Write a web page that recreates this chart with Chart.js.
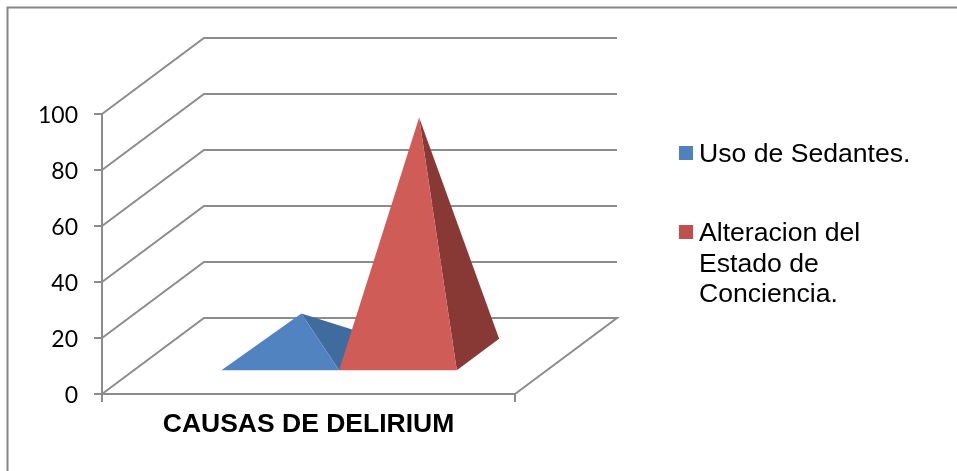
<!DOCTYPE html>
<html>
<head>
<meta charset="utf-8">
<script src="https://cdn.jsdelivr.net/npm/chart.js@4"></script>
<style>
  html, body { margin: 0; background: #fff; }
  #wrap { position: relative; width: 957px; height: 471px; }
</style>
</head>
<body>
<div id="wrap"><canvas id="delirium" width="957" height="471"></canvas></div>
<script>
const categories = ['CAUSAS DE DELIRIUM'];
const sedantes = [15];
const alteracion = [85];
const seriesNames = ['Uso de Sedantes.', 'Alteracion del Estado de Conciencia.'];
const legendLines = [['Uso de Sedantes.'], ['Alteracion del', 'Estado de', 'Conciencia.']];
const yTicks = [0, 20, 40, 60, 80, 100];

const gridColor = '#8c8c8c';
// how far the 3D box goes back, in pixels
const depthX = 102;
const depthY = 76;
// where the pyramid base sits inside that depth
const baseFront = 0.30;
const baseBack = 0.715;

const faces = [
    { front: '#5083c0', side: '#3f6b9e' },
    { front: '#d05c58', side: '#893935' }
];

// back walls and floor of the 3D box
const wallsPlugin = {
    id: 'walls',
    beforeDatasetsDraw(chart) {
        const ctx = chart.ctx;
        const area = chart.chartArea;
        const y = chart.scales.y;
        ctx.save();
        ctx.strokeStyle = gridColor;
        ctx.lineWidth = 2;
        y.ticks.forEach(t => {
            const py = y.getPixelForValue(t.value);
            ctx.beginPath();
            ctx.moveTo(area.left, py);
            ctx.lineTo(area.left + depthX, py - depthY);
            ctx.lineTo(area.right + depthX, py - depthY);
            if (t.value === 0) ctx.lineTo(area.right, py);
            ctx.stroke();
        });
        ctx.restore();
    }
};

function drawPyramid(ctx, bar, face) {
    const half = bar.width / 2;
    const mid = (baseFront + baseBack) / 2;

    const fl = [bar.x - half + baseFront * depthX, bar.base - baseFront * depthY];
    const fr = [bar.x + half + baseFront * depthX, bar.base - baseFront * depthY];
    const br = [bar.x + half + baseBack * depthX, bar.base - baseBack * depthY];
    const apex = [bar.x + mid * depthX, bar.y - mid * depthY];

    ctx.fillStyle = face.side;
    ctx.beginPath();
    ctx.moveTo(fr[0], fr[1]);
    ctx.lineTo(br[0], br[1]);
    ctx.lineTo(apex[0], apex[1]);
    ctx.closePath();
    ctx.fill();

    ctx.fillStyle = face.front;
    ctx.beginPath();
    ctx.moveTo(fl[0], fl[1]);
    ctx.lineTo(fr[0], fr[1]);
    ctx.lineTo(apex[0], apex[1]);
    ctx.closePath();
    ctx.fill();
}

// bars are drawn as pyramids, from the bar element geometry.
// first series first, chart.js would go the other way round
const pyramidPlugin = {
    id: 'pyramids',
    beforeDatasetDraw() {
        return false;
    },
    afterDatasetsDraw(chart) {
        const ctx = chart.ctx;
        ctx.save();
        chart.data.datasets.forEach((ds, i) => {
            drawPyramid(ctx, chart.getDatasetMeta(i).data[0], faces[i]);
        });
        ctx.restore();
    }
};

// legend by hand, the built in one can't do the tight box to text gap
const legendPlugin = {
    id: 'sideLegend',
    afterDraw(chart) {
        const ctx = chart.ctx;
        const tops = [146, 225];
        ctx.save();
        ctx.font = '26.6px "Liberation Sans"';
        ctx.textBaseline = 'middle';
        chart.data.datasets.forEach((ds, i) => {
            ctx.fillStyle = ds.backgroundColor;
            ctx.fillRect(679, tops[i], 14, 14);
            ctx.fillStyle = '#000';
            legendLines[i].forEach((line, n) => {
                ctx.fillText(line, 699, tops[i] + 9 + n * 30.5);
            });
        });
        ctx.restore();
    }
};

// outer frame of the chart
const framePlugin = {
    id: 'frame',
    beforeDraw(chart) {
        const ctx = chart.ctx;
        ctx.save();
        ctx.strokeStyle = '#868686';
        ctx.lineWidth = 2;
        ctx.beginPath();
        ctx.moveTo(7.5, 471);
        ctx.lineTo(7.5, 7.5);
        ctx.lineTo(957, 7.5);
        ctx.stroke();
        ctx.restore();
    }
};

new Chart(document.getElementById('delirium'), {
    type: 'bar',
    data: {
        labels: categories,
        datasets: [
            { label: seriesNames[0], data: sedantes, backgroundColor: '#4f81bd' },
            { label: seriesNames[1], data: alteracion, backgroundColor: '#c0504d' }
        ]
    },
    plugins: [framePlugin, wallsPlugin, pyramidPlugin, legendPlugin],
    options: {
        responsive: false,
        animation: false,
        layout: { padding: { top: 114, right: 442, left: 0, bottom: 0 } },
        plugins: {
            legend: { display: false },
            tooltip: { enabled: false }
        },
        datasets: { bar: { categoryPercentage: 0.57, barPercentage: 1 } },
        scales: {
            x: {
                afterFit(scale) { scale.height = 77; },
                border: { color: gridColor, width: 2 },
                grid: { drawOnChartArea: false, color: gridColor, tickLength: 8, lineWidth: 2 },
                ticks: {
                    color: '#000',
                    padding: 7,
                    font: { family: '"Liberation Sans"', size: 26.5, weight: 'bold' }
                }
            },
            y: {
                min: 0,
                max: 100,
                afterFit(scale) { scale.width = 102; },
                afterBuildTicks(scale) { scale.ticks = yTicks.map(v => ({ value: v })); },
                border: { color: gridColor, width: 2 },
                grid: { drawOnChartArea: false, color: gridColor, tickLength: 8, lineWidth: 2 },
                ticks: {
                    color: '#000',
                    padding: 16,
                    labelOffset: 2,
                    font: { family: 'Lato', size: 23 }
                }
            }
        }
    }
});
</script>
</body>
</html>
